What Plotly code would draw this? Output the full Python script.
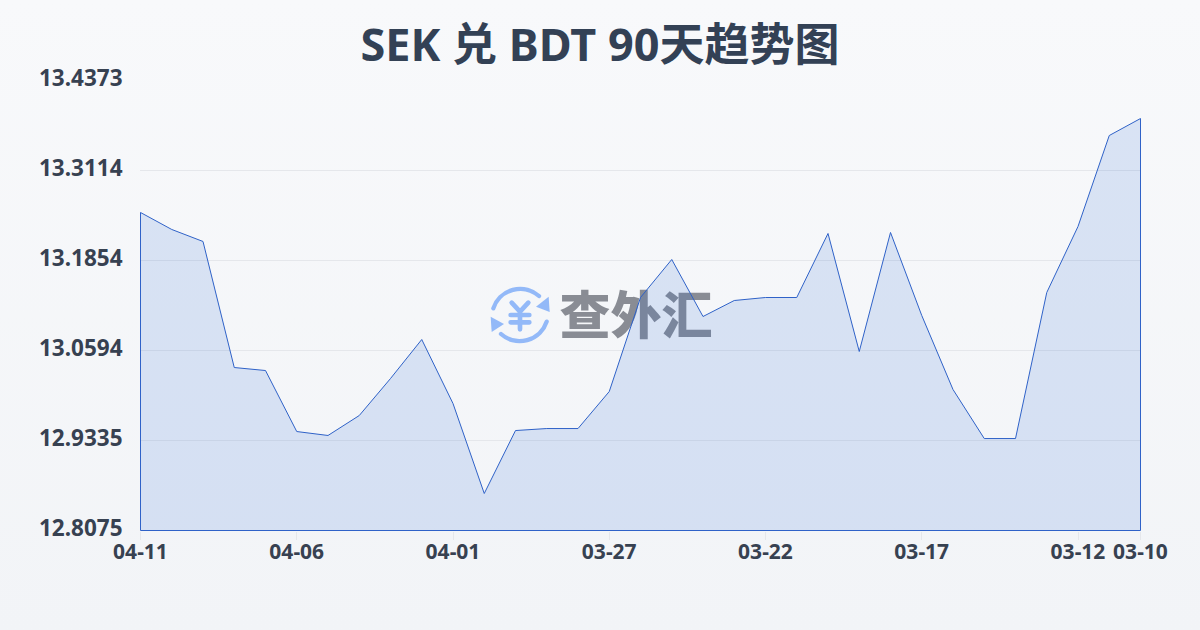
import base64
import plotly.graph_objects as go

title = "SEK 兑 BDT 90天趋势图"
watermark = "查外汇"
dates = ["04-11","04-10","04-09","04-08","04-07","04-06","04-05","04-04","04-03","04-02","04-01",
         "03-31","03-30","03-29","03-28","03-27","03-26","03-25","03-24","03-23","03-22",
         "03-21","03-20","03-19","03-18","03-17","03-16","03-15","03-14","03-13","03-12","03-11","03-10"]
rates = [13.2526,13.2288,13.2120,13.0356,13.0314,12.9460,12.9405,12.9684,13.0202,13.0748,12.9852,
         12.8593,12.9474,12.9502,12.9502,13.0020,13.1336,13.1868,13.1070,13.1294,13.1336,
         13.1336,13.2232,13.0580,13.2246,13.1084,13.0048,12.9362,12.9362,13.1406,13.2330,13.3603,13.3841]
y_ticks = [12.8075,12.9335,13.0594,13.1854,13.3114,13.4373]
x_tick_labels = ["04-11","04-06","04-01","03-27","03-22","03-17","03-12","03-10"]

idx = list(range(len(dates)))
base = y_ticks[0]
xs = [idx[0]] + idx + [idx[-1], idx[0]]
ys = [base] + rates + [base, base]

bg_svg = ('<svg xmlns="http://www.w3.org/2000/svg" width="1200" height="630" preserveAspectRatio="none">'
          '<defs><linearGradient id="g" x1="0" y1="0" x2="0" y2="1"><stop offset="0" stop-color="#f8f9fb"/>'
          '<stop offset="1" stop-color="#f2f4f7"/></linearGradient></defs>'
          '<rect width="1200" height="630" fill="url(#g)"/></svg>')
icon_svg = ('<svg xmlns="http://www.w3.org/2000/svg" width="60" height="60" viewBox="60 45 180 180">'
            '<g fill="none" stroke="#93b9f8" stroke-width="13" stroke-linecap="round" stroke-linejoin="round">'
            '<path d="M70 115 A85 85 0 0 1 207 78"/><path d="M230 155 A85 85 0 0 1 93 192"/>'
            '<path d="M125 98 L150 125 L175 98 M122 135 H178 M122 157 H178 M150 125 V178" stroke-width="14"/></g>'
            '<g fill="#93b9f8"><path d="M236 80 L239 126 L198 110 Z"/><path d="M62 140 L65 186 L102 162 Z"/></g></svg>')
def uri(s):
    return "data:image/svg+xml;base64," + base64.b64encode(s.encode()).decode()

FONT = "'Noto Sans', 'Noto Sans CJK SC', sans-serif"
INK = "#374151"
# half a pixel of slack each side so 1px outlines land on whole pixels
x_slack = 0.5 / 31.25
y_slack = 0.5 * (y_ticks[-1] - y_ticks[0]) / 450

fig = go.Figure()
fig.add_trace(go.Scatter(x=[15.86], y=[13.1], mode="text", text=[watermark], cliponaxis=False,
                         textfont=dict(family="'Noto Sans CJK SC'", size=51, weight=900, color="rgba(80,85,95,0.66)"),
                         textposition="middle center", hoverinfo="skip"))
fig.add_trace(go.Scatter(x=xs, y=ys, mode="lines", fill="toself", cliponaxis=False,
                         fillcolor="rgba(37,99,215,0.14)",
                         line=dict(color="#2f62c8", width=1, shape="linear"), hoverinfo="skip"))
fig.update_layout(
    width=1200, height=630, showlegend=False,
    margin=dict(l=140, r=59, t=80, b=99, autoexpand=False),
    paper_bgcolor="rgba(0,0,0,0)", plot_bgcolor="rgba(0,0,0,0)",
    font=dict(family=FONT, color=INK),
    title=dict(text=title, x=0.5, xanchor="center", xref="container", y=1-45/630, yanchor="middle",
               font=dict(family=FONT, size=45, weight=700, color="#334155")),
    xaxis=dict(range=[idx[0]-x_slack, idx[-1]+x_slack], tickmode="array",
               tickvals=[dates.index(d) for d in x_tick_labels], ticktext=x_tick_labels,
               showgrid=False, zeroline=False, showline=False, ticks="outside", ticklen=8, tickwidth=1,
               tickcolor="#e5e7eb", ticklabelstandoff=-6,
               tickfont=dict(family=FONT, size=21, weight=700, color=INK)),
    yaxis=dict(range=[y_ticks[0]-y_slack, y_ticks[-1]+y_slack], tickmode="array", tickvals=y_ticks,
               ticktext=[f"{v:.4f}" for v in y_ticks], showgrid=True, gridcolor="#e5e7eb", gridwidth=1,
               zeroline=False, showline=False, ticks="outside", ticklen=12, tickcolor="rgba(0,0,0,0)",
               ticklabelshift=-2,
               tickfont=dict(family=FONT, size=22.5, weight=700, color=INK)),
    images=[
        dict(source=uri(bg_svg), xref="paper", yref="paper", x=-140/1001, y=1+80/451, sizex=1200/1001, sizey=630/451,
             xanchor="left", yanchor="top", sizing="stretch", layer="below"),
        dict(source=uri(icon_svg), xref="paper", yref="paper", x=(490-140)/1001, y=1-(285-80)/451,
             sizex=60/1001, sizey=60/451, xanchor="left", yanchor="top", sizing="stretch", layer="below"),
    ],
)
fig.write_html("out.html", config=dict(displayModeBar=False),
               post_script="document.body.style.margin='0';document.body.style.background='#f5f7fa';")
